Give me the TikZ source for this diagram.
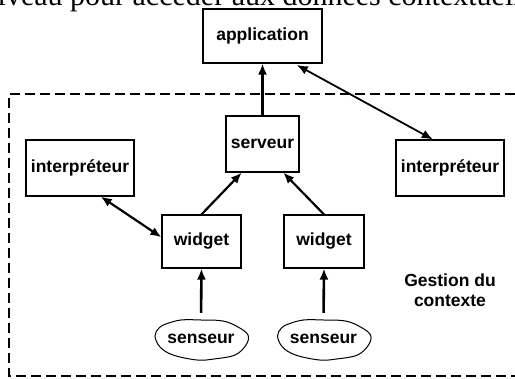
\documentclass[tikz,border=0pt]{standalone}
\usepackage{fontspec}
\setmainfont{Liberation Sans}
\newfontfamily\bodyserif{Liberation Serif}
\usetikzlibrary{arrows.meta,shapes.geometric,calc}

% wobbly hand-drawn outline round a sensor node
\newcommand\sensoroutline[1]{%
  \begin{scope}[shift={(#1.center)}]
    \draw[line width=1pt] plot[smooth cycle,tension=0.6] coordinates {
      (-46,-3) (-42,-11) (-35,-15) (-20,-19) (0,-19) (22,-18) (37,-12)
      (47,-4) (45,6) (34,16) (13,20) (-4,21) (-28,16) (-41,8)};
  \end{scope}}

\begin{document}
\begin{tikzpicture}[x=1pt,y=-1pt,
  box/.style={draw,line width=1.1pt,inner sep=0pt,
    font=\fontsize{17.5}{20}\selectfont\bfseries},
  sensor/.style={ellipse,inner sep=0pt,minimum width=92pt,minimum height=38pt,
    font=\fontsize{17.5}{20}\selectfont\bfseries},
  link/.style={line width=2.6pt,-{Latex[length=11pt,width=9pt]}},
  both/.style={line width=2.2pt,{Latex[length=11pt,width=9pt]}-{Latex[length=11pt,width=9pt]}},
  zone/.style={line width=2.2pt,dash pattern=on 10pt off 5pt},
]
\clip (0,0) rectangle (515,379);
\fill[white] (0,0) rectangle (515,379);

% line of running text above the figure
\node[anchor=base west,inner sep=0pt,font=\bodyserif\fontsize{30}{34}\selectfont]
  (caption) at (70,6) {\llap{niveau\ }pour accéder aux données contextuelles};

% context management zone
\draw[zone] (530,94) -- (9,94) -- (9,376) -- (530,376);

% boxes
\node[box,minimum width=119pt,minimum height=54pt] (app) at (262.5,36) {application};
\node[box,minimum width=73pt,minimum height=56pt] (srv) at (262.5,144) {serveur};
\node[box,minimum width=108pt,minimum height=56pt] (intL) at (80,168) {interpréteur};
\node[box,minimum width=108pt,minimum height=56pt] (intR) at (450,168) {interpréteur};
\node[box,minimum width=79pt,minimum height=53pt] (wL) at (201.5,241.5) {widget};
\node[box,minimum width=80pt,minimum height=53pt] (wR) at (324,241.5) {widget};

% sensors
\node[sensor] (sL) at (201,339) {senseur};
\node[sensor] (sR) at (323.5,339) {senseur};
\sensoroutline{sL}
\sensoroutline{sR}

% zone label
\node[align=center,font=\fontsize{17.5}{20}\selectfont\bfseries] (lbl) at (450,290)
  {Gestion du\\contexte};

% connectors
\draw[link] (srv.north) -- (app.south);
\draw[both,line width=1.8pt,shorten <=3pt] (app.-41) -- (intR.121);
\draw[link,line width=2.2pt] (wL.north) -- (srv.-126);
\draw[link,line width=2.2pt] (wR.north) -- (srv.-54);
\draw[both] (intL.-54.5) -- (wL.174);
\draw[link,shorten <=7pt] (sL.north) -- (wL.south);
\draw[link,shorten <=7pt] (sR.north) -- (wR.south);
\end{tikzpicture}
\end{document}
